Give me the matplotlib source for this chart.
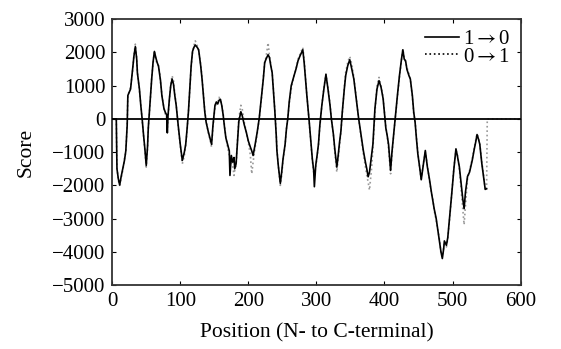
import numpy as np
import matplotlib
matplotlib.use('Agg')
import matplotlib.pyplot as plt

plt.rcParams['font.family'] = ['Liberation Serif', 'DejaVu Serif']
plt.rcParams['mathtext.fontset'] = 'stix'

# positions along the sequence (N- to C-terminal)
pos = [0, 6, 7, 9, 11, 13, 16, 18, 20, 22, 23, 25, 27, 30, 32, 34, 36, 37, 40, 42,
       44, 46, 48, 50, 52, 53, 56, 58, 60, 62, 64, 66, 68, 70, 71, 73, 76, 78, 80, 81,
       82, 84, 86, 88, 90, 92, 94, 97, 100, 103, 106, 108, 110, 112, 114, 116, 118, 120, 122, 125,
       127, 130, 132, 134, 136, 138, 141, 144, 146, 148, 151, 153, 155, 157, 159, 161, 163, 165, 167, 170,
       172, 173, 175, 177, 179, 180, 182, 184, 186, 189, 191, 194, 197, 200, 203, 205, 207, 210, 213, 216,
       219, 222, 224, 226, 229, 231, 233, 235, 237, 239, 241, 242, 244, 247, 249, 251, 254, 256, 258, 260,
       263, 265, 267, 270, 273, 276, 280, 282, 284, 286, 289, 292, 294, 296, 297, 299, 301, 303, 305, 308,
       311, 314, 317, 320, 322, 325, 327, 330, 332, 334, 336, 338, 341, 343, 346, 349, 352, 355, 358, 362,
       365, 369, 372, 374, 376, 378, 381, 383, 386, 389, 392, 395, 398, 400, 402, 404, 406, 409, 411, 413,
       416, 419, 422, 425, 427, 429, 431, 433, 436, 438, 441, 443, 445, 447, 449, 452, 454, 457, 460, 463,
       466, 469, 471, 473, 476, 478, 481, 483, 485, 487, 488, 491, 493, 496, 499, 502, 505, 507, 510, 513,
       515, 517, 519, 522, 525, 529, 532, 534, 536, 538, 540, 543, 546, 548, 550, 551, 600]

# 1->0 scores
score_10 = [0, 0, -1500, -1800, -1990, -1750, -1450, -1250, -960, -200, 705, 800, 900, 1500, 1900, 2175, 1800, 1390, 900, 410,
            0, -470, -900, -1400, -800, -275, 600, 1200, 1700, 2030, 1850, 1700, 1590, 1300, 1150, 700, 315, 200, 120, -420,
            100, 600, 1000, 1200, 1050, 700, 410, -200, -765, -1250, -1000, -765, -300, 215, 900, 1600, 2030, 2150, 2225, 2150,
            2080, 1600, 1200, 700, 215, -100, -370, -600, -765, -200, 410, 510, 450, 560, 590, 400, 120, -250, -570, -800,
            -960, -1700, -1100, -1300, -1160, -1500, -1350, -700, -80, 215, 100, -175, -400, -665, -850, -960, -1100, -765, -400, 20,
            600, 1200, 1690, 1800, 1930, 1850, 1600, 1390, 800, 215, -500, -960, -1400, -1940, -1600, -1200, -765, -300, 20, 500,
            1000, 1150, 1290, 1500, 1750, 1900, 2080, 1700, 1200, 700, 20, -700, -1200, -1550, -2040, -1400, -1100, -765, -200, 410,
            900, 1340, 900, 410, 0, -470, -900, -1450, -1100, -700, -370, 200, 900, 1300, 1600, 1780, 1500, 1200, 700, 20,
            -400, -960, -1300, -1500, -1740, -1600, -1100, -765, 315, 900, 1150, 950, 610, 150, -275, -500, -765, -1550, -1000, -570,
            100, 705, 1300, 1800, 2080, 1800, 1750, 1490, 1300, 1200, 700, 200, -100, -600, -1050, -1500, -1830, -1400, -950, -1440,
            -1800, -2210, -2450, -2700, -3000, -3280, -3700, -4000, -4200, -3900, -3670, -3800, -3570, -2900, -2210, -1500, -900, -1100, -1440, -2000,
            -2400, -2700, -2200, -1730, -1600, -1240, -900, -700, -470, -600, -760, -1340, -1800, -2120, -2100, np.nan, np.nan]

# 0->1 scores
score_01 = [0, 0, -1450, -1850, -2000, -1800, -1500, -1200, -1000, -150, 650, 850, 950, 1450, 1950, 2250, 1850, 1400, 850, 450,
            -50, -500, -950, -1450, -850, -300, 550, 1250, 1650, 2050, 1800, 1650, 1600, 1350, 1100, 750, 300, 150, 100, -300,
            50, 550, 1050, 1300, 1150, 750, 450, -250, -800, -1350, -1100, -800, -350, 200, 850, 1550, 2000, 2200, 2350, 2200,
            2050, 1650, 1250, 750, 250, -50, -400, -650, -850, -250, 350, 450, 500, 650, 550, 450, 150, -200, -550, -900,
            -1100, -1200, -1300, -1400, -1700, -1550, -1400, -650, 0, 410, 300, -100, -400, -700, -1100, -1650, -1300, -850, -450, 0,
            550, 1250, 1700, 1850, 2290, 1900, 1650, 1400, 850, 250, -450, -900, -1400, -2000, -1700, -1250, -800, -300, 0, 450,
            900, 1100, 1300, 1500, 1800, 1950, 2150, 1800, 1250, 700, 0, -750, -1250, -1600, -1700, -1450, -1150, -800, -250, 400,
            950, 1350, 950, 450, 0, -500, -1000, -1600, -1200, -800, -400, 150, 950, 1400, 1700, 1880, 1650, 1250, 750, 0,
            -450, -1050, -1450, -1700, -1900, -2140, -1500, -900, 200, 1000, 1250, 1000, 650, 200, -250, -500, -900, -1650, -1100, -600,
            50, 650, 1250, 1750, 2100, 1850, 1700, 1550, 1350, 1200, 650, 150, -50, -550, -1000, -1550, -1800, -1350, -1000, -1400,
            -1850, -2250, -2400, -2750, -3050, -3300, -3650, -4050, -4150, -3850, -3700, -3850, -3600, -2950, -2200, -1450, -950, -1050, -1500, -2200,
            -2700, -3180, -2600, -1800, -1550, -1200, -850, -650, -450, -550, -750, -1300, -1750, -2100, -2150, 0, 0]

fig = plt.figure(figsize=(5.61, 3.49), dpi=100)
ax = fig.add_axes([0.2, 0.183, 0.728, 0.762])

ax.plot(pos, score_10, color='black', lw=1.2, label='1$\\rightarrow$0', zorder=3)
ax.plot(pos, score_01, color='0.6', lw=1.2, ls=':', label='0$\\rightarrow$1', zorder=2)
ax.axhline(0, color='black', lw=1.3, zorder=4)

ax.set_xlim(0, 600)
ax.set_ylim(-5000, 3000)
ax.set_xticks(range(0, 601, 100))
ax.set_yticks(range(-5000, 3001, 1000))
ax.tick_params(direction='in', top=True, right=True, length=3, labelsize=15, pad=5)
for s in ax.spines.values():
    s.set_linewidth(1.3)
    s.set_color('0.2')

ax.set_xlabel('Position (N- to C-terminal)', fontsize=15.5, labelpad=9)
ax.set_ylabel('Score', fontsize=15.5, labelpad=12)

leg = ax.legend(loc='upper right', frameon=False, fontsize=15, handlelength=1.6,
                handletextpad=0.2, labelspacing=-0.1, borderaxespad=0.1)
leg.get_lines()[1].set_color('black')

fig.savefig('out.png', dpi=100)
